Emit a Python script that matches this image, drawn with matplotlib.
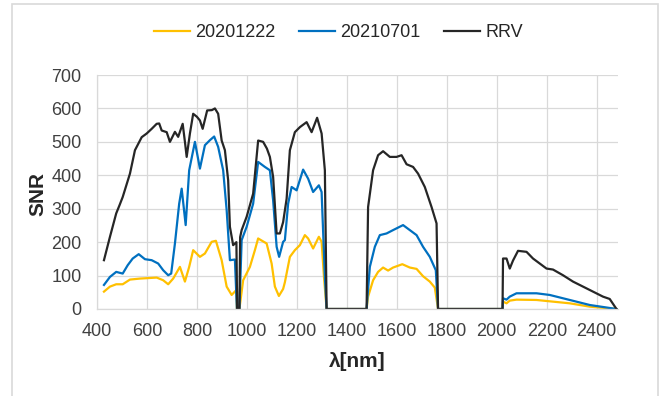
import matplotlib
matplotlib.use('Agg')
import matplotlib.pyplot as plt
from matplotlib.patches import Rectangle

# series (wavelength nm, SNR)
wl_2020 = [428, 452, 477, 503, 532, 572, 639, 665, 685, 705, 732, 752, 769, 785,
           812, 832, 859, 876, 899, 919, 939, 958, 960, 970, 985, 1012, 1032, 1045,
           1079, 1099, 1112, 1128, 1145, 1152, 1172, 1192, 1212, 1232, 1245, 1265,
           1288, 1299, 1309, 1319, 1479, 1485, 1505, 1525, 1545, 1565, 1585, 1622,
           1652, 1679, 1705, 1732, 1752, 1765, 2023, 2025, 2039, 2052, 2079, 2159,
           2225, 2292, 2372, 2479]
snr_2020 = [52, 67, 74, 74, 88, 91, 94, 86, 74, 91, 126, 82, 126, 176,
            156, 166, 201, 204, 146, 67, 42, 57, 0, 0, 86, 126, 176, 211,
            196, 136, 67, 39, 60, 80, 156, 176, 191, 221, 211, 181,
            216, 201, 90, 0, 0, 37, 86, 111, 124, 115, 124, 134,
            124, 120, 98, 82, 64, 0, 0, 22, 17, 25, 28, 27,
            22, 17, 7, 0]

wl_2021 = [428, 452, 477, 503, 523, 543, 567, 592, 619, 645, 665, 685, 697, 712,
           729, 739, 755, 769, 792, 812, 832, 852, 869, 885, 905, 919, 932, 952,
           960, 970, 979, 999, 1025, 1045, 1072, 1092, 1105, 1119, 1129, 1145, 1152,
           1165, 1179, 1199, 1225, 1245, 1265, 1288, 1299, 1312, 1319, 1479, 1482,
           1492, 1512, 1532, 1559, 1585, 1625, 1652, 1679, 1705, 1732, 1756, 1765,
           2023, 2025, 2039, 2052, 2079, 2159, 2212, 2292, 2372, 2479]
snr_2021 = [72, 96, 111, 106, 131, 151, 164, 149, 146, 136, 116, 101, 106, 196,
            315, 360, 251, 415, 500, 420, 490, 505, 516, 485, 415, 296, 146, 148,
            0, 0, 206, 246, 315, 440, 425, 415, 325, 186, 156, 201, 206,
            315, 365, 355, 417, 390, 350, 370, 350, 96, 0, 0, 30,
            126, 186, 221, 226, 236, 251, 236, 221, 186, 156, 116, 0,
            0, 32, 28, 37, 47, 47, 42, 27, 12, 0]

wl_rrv = [428, 452, 477, 490, 503, 532, 552, 579, 599, 619, 639, 649, 659, 679,
          692, 712, 725, 743, 752, 759, 772, 785, 800, 812, 823, 841, 860, 872,
          885, 899, 912, 925, 932, 945, 958, 961, 970, 973, 979, 999, 1025, 1045,
          1065, 1080, 1092, 1105, 1119, 1132, 1145, 1159, 1172, 1192, 1212, 1239,
          1259, 1281, 1299, 1312, 1319, 1479, 1485, 1505, 1525, 1545, 1572, 1599,
          1619, 1639, 1665, 1685, 1712, 1739, 1759, 1765, 2023, 2025, 2039, 2052,
          2065, 2085, 2119, 2145, 2172, 2199, 2225, 2265, 2305, 2345, 2385, 2425,
          2452, 2479]
snr_rrv = [146, 216, 286, 310, 335, 405, 475, 514, 525, 539, 554, 555, 534, 529,
           500, 530, 515, 554, 500, 455, 525, 584, 575, 564, 539, 594, 595, 600,
           584, 504, 475, 385, 246, 191, 200, 0, 0, 215, 236, 276, 345, 504,
           500, 480, 455, 395, 226, 226, 260, 330, 475, 529, 544, 559,
           529, 572, 525, 415, 0, 0, 305, 415, 460, 472, 455, 455,
           460, 433, 425, 405, 365, 305, 256, 0, 0, 151, 151, 121,
           145, 174, 171, 151, 136, 121, 118, 101, 82, 67, 52, 37,
           30, 0]

series = [('20201222', wl_2020, snr_2020, '#FFC000'),
          ('20210701', wl_2021, snr_2021, '#0070C0'),
          ('RRV', wl_rrv, snr_rrv, '#262626')]

x_ticks = list(range(400, 2401, 200))
y_ticks = list(range(0, 701, 100))

fig = plt.figure(figsize=(6.61, 3.96), dpi=100)
ax = fig.add_axes([0.1467, 0.2197, 0.7882, 0.5909])

for name, wl, snr, col in series:
    ax.plot(wl, snr, color=col, lw=1.6, label=name, solid_joinstyle='round')

ax.set_xlim(400, 2485)
ax.set_ylim(0, 700)
ax.set_xticks(x_ticks)
ax.set_yticks(y_ticks)
ax.grid(True, color='#d9d9d9', lw=0.9)
ax.set_axisbelow(True)
for s in ['top', 'right']:
    ax.spines[s].set_visible(False)
for s in ['left', 'bottom']:
    ax.spines[s].set_color('#d9d9d9')
    ax.spines[s].set_linewidth(0.9)

tick_font = ['Liberation Sans Narrow', 'Liberation Sans']
ax.tick_params(length=0, labelsize=13, labelcolor='#404040')
ax.tick_params(axis='x', pad=10)
ax.tick_params(axis='y', pad=11)
for lab in ax.get_xticklabels() + ax.get_yticklabels():
    lab.set_family(tick_font)

fig.text(357.5 / 661, 0.086, 'λ[nm]', ha='center', va='center', fontsize=15,
         fontweight='bold', color='#262626', family=tick_font)
fig.text(0.0567, 0.511, 'SNR', ha='center', va='center', rotation=90, fontsize=15,
         fontweight='bold', color='#262626', family=tick_font)

leg = fig.legend(loc='center', bbox_to_anchor=(0.512, 0.917), ncol=3, frameon=False,
                 handlelength=2.0, handletextpad=0.3, columnspacing=1.3,
                 prop={'family': 'Liberation Sans', 'size': 13})
for t in leg.get_texts():
    t.set_color('#262626')

# chart area border like the spreadsheet export
fig.patches.append(Rectangle((12 / 661, -0.02), 646 / 661, 1.01, transform=fig.transFigure,
                             fill=False, edgecolor='#d9d9d9', lw=1.2))

fig.savefig('out.png', dpi=100)
